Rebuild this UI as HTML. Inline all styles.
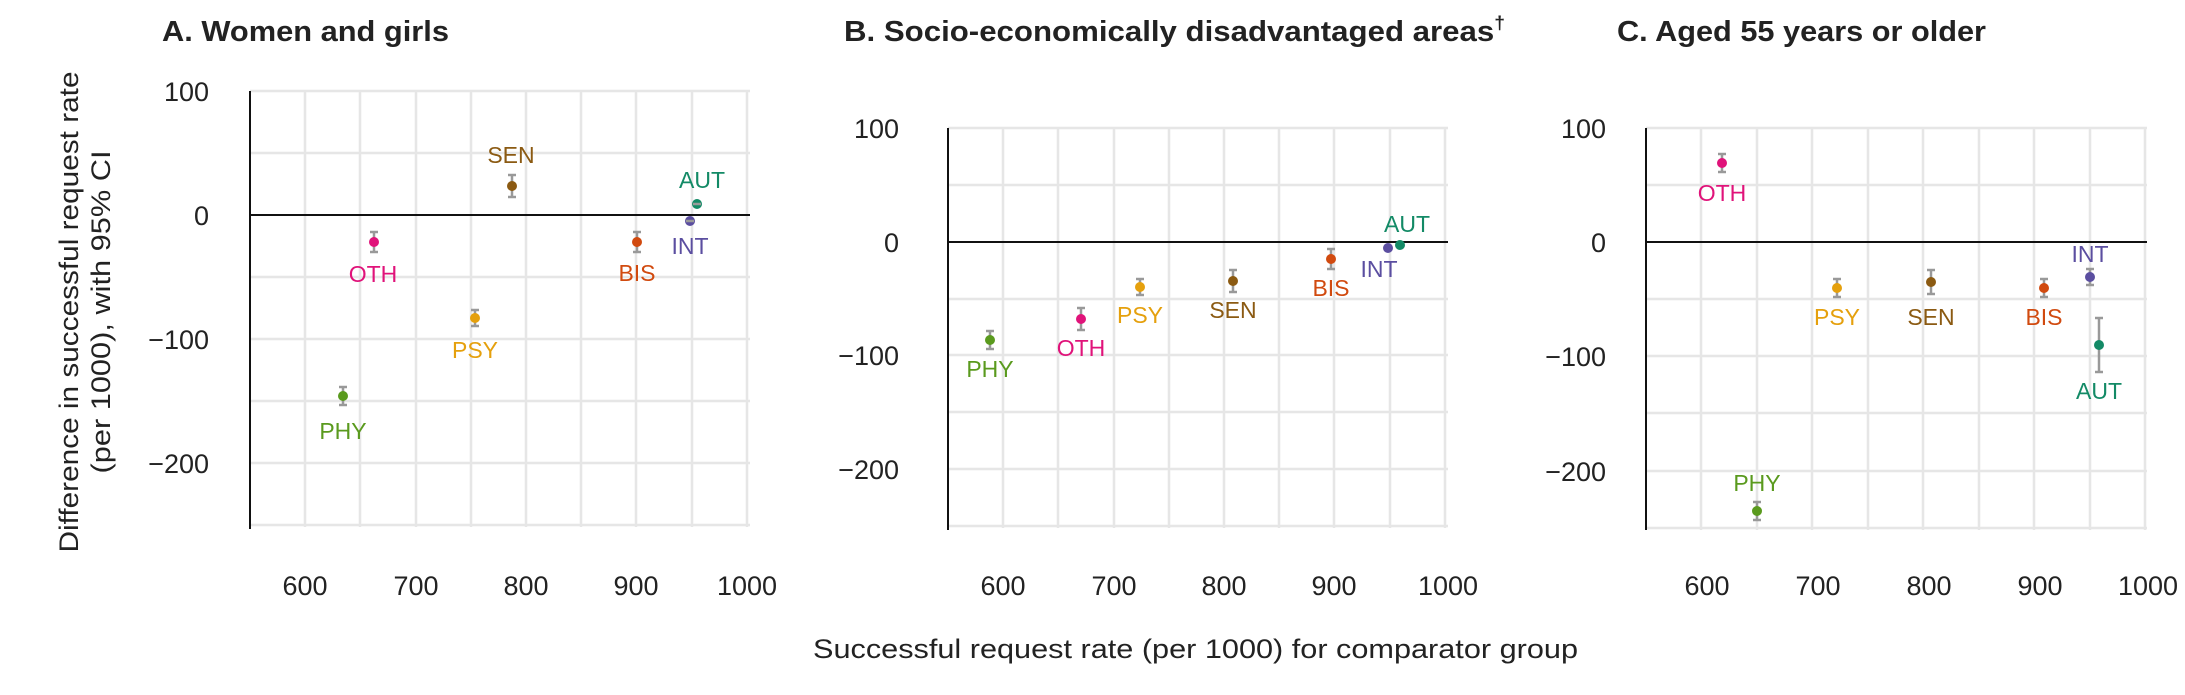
<!DOCTYPE html>
<html><head><meta charset="utf-8"><style>
html,body{margin:0;padding:0;background:#fff;}
svg{display:block;font-family:"Liberation Sans",sans-serif;}
.g{stroke:#e6e6e6;stroke-width:2.5;}
.ax{stroke:#111;stroke-width:2;}
.tk{font-size:27px;fill:#222;}
.lb{font-size:23px;text-anchor:middle;}
.eb{stroke:#999;stroke-width:2.5;}
.t{font-size:29px;font-weight:bold;fill:#222;}
</style></head><body>
<svg width="2185" height="695" viewBox="0 0 2185 695" xmlns="http://www.w3.org/2000/svg">
<!-- titles -->
<text class="t" x="162" y="41" textLength="287" lengthAdjust="spacingAndGlyphs">A. Women and girls</text>
<text class="t" x="844" y="41" textLength="661" lengthAdjust="spacingAndGlyphs">B. Socio-economically disadvantaged areas<tspan font-size="18" dy="-12">†</tspan></text>
<text class="t" x="1617" y="41" textLength="369" lengthAdjust="spacingAndGlyphs">C. Aged 55 years or older</text>

<!-- y axis title -->
<text transform="translate(78,312) rotate(-90)" text-anchor="middle" font-size="27" fill="#222" textLength="481" lengthAdjust="spacingAndGlyphs">Difference in successful request rate</text>
<text transform="translate(110,312) rotate(-90)" text-anchor="middle" font-size="27" fill="#222" textLength="323" lengthAdjust="spacingAndGlyphs">(per 1000), with 95% CI</text>
<!-- x axis title -->
<text x="813" y="658" font-size="27" fill="#222" textLength="765" lengthAdjust="spacingAndGlyphs">Successful request rate (per 1000) for comparator group</text>

<!-- PANEL A grid -->
<g class="g">
<line x1="250" y1="91" x2="750" y2="91"/><line x1="250" y1="153" x2="750" y2="153"/><line x1="250" y1="277" x2="750" y2="277"/><line x1="250" y1="339" x2="750" y2="339"/><line x1="250" y1="401" x2="750" y2="401"/><line x1="250" y1="463" x2="750" y2="463"/><line x1="250" y1="525" x2="750" y2="525"/>
<line x1="305" y1="91" x2="305" y2="527"/><line x1="360" y1="91" x2="360" y2="527"/><line x1="416" y1="91" x2="416" y2="527"/><line x1="471" y1="91" x2="471" y2="527"/><line x1="526" y1="91" x2="526" y2="527"/><line x1="581" y1="91" x2="581" y2="527"/><line x1="636" y1="91" x2="636" y2="527"/><line x1="692" y1="91" x2="692" y2="527"/><line x1="747" y1="91" x2="747" y2="527"/>
</g>
<line class="ax" x1="250" y1="91" x2="250" y2="529"/>
<line class="ax" x1="250" y1="215" x2="750" y2="215"/>
<g class="tk" text-anchor="end">
<text x="209" y="101">100</text><text x="209" y="225">0</text><text x="209" y="349">−100</text><text x="209" y="473">−200</text>
</g>
<g class="tk" text-anchor="middle">
<text x="305" y="595">600</text><text x="416" y="595">700</text><text x="526" y="595">800</text><text x="636" y="595">900</text><text x="747" y="595">1000</text>
</g>
<!-- A points -->
<g>
<line class="eb" x1="343" y1="387" x2="343" y2="405"/><line class="eb" x1="339" y1="387" x2="347" y2="387"/><line class="eb" x1="339" y1="405" x2="347" y2="405"/><circle cx="343" cy="396" r="5" fill="#5a9a1e"/>
<text class="lb" x="343" y="439" fill="#5a9a1e">PHY</text>
<line class="eb" x1="374" y1="232" x2="374" y2="252"/><line class="eb" x1="370" y1="232" x2="378" y2="232"/><line class="eb" x1="370" y1="252" x2="378" y2="252"/><circle cx="374" cy="242" r="5" fill="#e0137a"/>
<text class="lb" x="373" y="282" fill="#e0137a">OTH</text>
<line class="eb" x1="475" y1="310" x2="475" y2="326"/><line class="eb" x1="471" y1="310" x2="479" y2="310"/><line class="eb" x1="471" y1="326" x2="479" y2="326"/><circle cx="475" cy="318" r="5" fill="#e5a00d"/>
<text class="lb" x="475" y="358" fill="#e5a00d">PSY</text>
<line class="eb" x1="512" y1="175" x2="512" y2="197"/><line class="eb" x1="508" y1="175" x2="516" y2="175"/><line class="eb" x1="508" y1="197" x2="516" y2="197"/><circle cx="512" cy="186" r="5" fill="#8b5a12"/>
<text class="lb" x="511" y="163" fill="#8b5a12">SEN</text>
<line class="eb" x1="637" y1="232" x2="637" y2="252"/><line class="eb" x1="633" y1="232" x2="641" y2="232"/><line class="eb" x1="633" y1="252" x2="641" y2="252"/><circle cx="637" cy="242" r="5" fill="#d14a0f"/>
<text class="lb" x="637" y="281" fill="#d14a0f">BIS</text>
<circle cx="690" cy="221" r="5" fill="#5b4ea0"/><line class="eb" x1="686" y1="221" x2="694" y2="221" stroke-width="1.5"/>
<text class="lb" x="690" y="254" fill="#5b4ea0">INT</text>
<circle cx="697" cy="204" r="5" fill="#138a66"/><line class="eb" x1="693" y1="204" x2="701" y2="204" stroke-width="1.5"/>
<text class="lb" x="702" y="188" fill="#138a66">AUT</text>
</g>

<!-- PANEL B grid -->
<g class="g">
<line x1="948" y1="128" x2="1448" y2="128"/><line x1="948" y1="185" x2="1448" y2="185"/><line x1="948" y1="299" x2="1448" y2="299"/><line x1="948" y1="355" x2="1448" y2="355"/><line x1="948" y1="412" x2="1448" y2="412"/><line x1="948" y1="469" x2="1448" y2="469"/><line x1="948" y1="526" x2="1448" y2="526"/>
<line x1="1003" y1="128" x2="1003" y2="528"/><line x1="1058" y1="128" x2="1058" y2="528"/><line x1="1114" y1="128" x2="1114" y2="528"/><line x1="1169" y1="128" x2="1169" y2="528"/><line x1="1224" y1="128" x2="1224" y2="528"/><line x1="1279" y1="128" x2="1279" y2="528"/><line x1="1334" y1="128" x2="1334" y2="528"/><line x1="1390" y1="128" x2="1390" y2="528"/><line x1="1445" y1="128" x2="1445" y2="528"/>
</g>
<line class="ax" x1="948" y1="128" x2="948" y2="530"/>
<line class="ax" x1="948" y1="242" x2="1448" y2="242"/>
<g class="tk" text-anchor="end">
<text x="899" y="138">100</text><text x="899" y="252">0</text><text x="899" y="365">−100</text><text x="899" y="479">−200</text>
</g>
<g class="tk" text-anchor="middle">
<text x="1003" y="595">600</text><text x="1114" y="595">700</text><text x="1224" y="595">800</text><text x="1334" y="595">900</text><text x="1448" y="595">1000</text>
</g>
<g>
<line class="eb" x1="990" y1="331" x2="990" y2="349"/><line class="eb" x1="986" y1="331" x2="994" y2="331"/><line class="eb" x1="986" y1="349" x2="994" y2="349"/><circle cx="990" cy="340" r="5" fill="#5a9a1e"/>
<text class="lb" x="990" y="377" fill="#5a9a1e">PHY</text>
<line class="eb" x1="1081" y1="308" x2="1081" y2="330"/><line class="eb" x1="1077" y1="308" x2="1085" y2="308"/><line class="eb" x1="1077" y1="330" x2="1085" y2="330"/><circle cx="1081" cy="319" r="5" fill="#e0137a"/>
<text class="lb" x="1081" y="356" fill="#e0137a">OTH</text>
<line class="eb" x1="1140" y1="279" x2="1140" y2="295"/><line class="eb" x1="1136" y1="279" x2="1144" y2="279"/><line class="eb" x1="1136" y1="295" x2="1144" y2="295"/><circle cx="1140" cy="287" r="5" fill="#e5a00d"/>
<text class="lb" x="1140" y="323" fill="#e5a00d">PSY</text>
<line class="eb" x1="1233" y1="270" x2="1233" y2="292"/><line class="eb" x1="1229" y1="270" x2="1237" y2="270"/><line class="eb" x1="1229" y1="292" x2="1237" y2="292"/><circle cx="1233" cy="281" r="5" fill="#8b5a12"/>
<text class="lb" x="1233" y="318" fill="#8b5a12">SEN</text>
<line class="eb" x1="1331" y1="249" x2="1331" y2="269"/><line class="eb" x1="1327" y1="249" x2="1335" y2="249"/><line class="eb" x1="1327" y1="269" x2="1335" y2="269"/><circle cx="1331" cy="259" r="5" fill="#d14a0f"/>
<text class="lb" x="1331" y="296" fill="#d14a0f">BIS</text>
<line class="eb" x1="1384" y1="248" x2="1392" y2="248"/><circle cx="1388" cy="248" r="5" fill="#5b4ea0"/>
<text class="lb" x="1379" y="277" fill="#5b4ea0">INT</text>
<line class="eb" x1="1396" y1="245" x2="1404" y2="245"/><circle cx="1400" cy="245" r="5" fill="#138a66"/>
<text class="lb" x="1407" y="232" fill="#138a66">AUT</text>
</g>

<!-- PANEL C grid -->
<g class="g">
<line x1="1646" y1="128" x2="2147" y2="128"/><line x1="1646" y1="185" x2="2147" y2="185"/><line x1="1646" y1="299" x2="2147" y2="299"/><line x1="1646" y1="356" x2="2147" y2="356"/><line x1="1646" y1="413" x2="2147" y2="413"/><line x1="1646" y1="471" x2="2147" y2="471"/><line x1="1646" y1="528" x2="2147" y2="528"/>
<line x1="1701" y1="128" x2="1701" y2="530"/><line x1="1757" y1="128" x2="1757" y2="530"/><line x1="1812" y1="128" x2="1812" y2="530"/><line x1="1868" y1="128" x2="1868" y2="530"/><line x1="1923" y1="128" x2="1923" y2="530"/><line x1="1979" y1="128" x2="1979" y2="530"/><line x1="2034" y1="128" x2="2034" y2="530"/><line x1="2090" y1="128" x2="2090" y2="530"/><line x1="2145" y1="128" x2="2145" y2="530"/>
</g>
<line class="ax" x1="1646" y1="128" x2="1646" y2="530"/>
<line class="ax" x1="1646" y1="242" x2="2147" y2="242"/>
<g class="tk" text-anchor="end">
<text x="1606" y="138">100</text><text x="1606" y="252">0</text><text x="1606" y="366">−100</text><text x="1606" y="481">−200</text>
</g>
<g class="tk" text-anchor="middle">
<text x="1707" y="595">600</text><text x="1818" y="595">700</text><text x="1929" y="595">800</text><text x="2040" y="595">900</text><text x="2148" y="595">1000</text>
</g>
<g>
<line class="eb" x1="1722" y1="154" x2="1722" y2="172"/><line class="eb" x1="1718" y1="154" x2="1726" y2="154"/><line class="eb" x1="1718" y1="172" x2="1726" y2="172"/><circle cx="1722" cy="163" r="5" fill="#e0137a"/>
<text class="lb" x="1722" y="201" fill="#e0137a">OTH</text>
<line class="eb" x1="1757" y1="502" x2="1757" y2="520"/><line class="eb" x1="1753" y1="502" x2="1761" y2="502"/><line class="eb" x1="1753" y1="520" x2="1761" y2="520"/><circle cx="1757" cy="511" r="5" fill="#5a9a1e"/>
<text class="lb" x="1757" y="491" fill="#5a9a1e">PHY</text>
<line class="eb" x1="1837" y1="279" x2="1837" y2="297"/><line class="eb" x1="1833" y1="279" x2="1841" y2="279"/><line class="eb" x1="1833" y1="297" x2="1841" y2="297"/><circle cx="1837" cy="288" r="5" fill="#e5a00d"/>
<text class="lb" x="1837" y="325" fill="#e5a00d">PSY</text>
<line class="eb" x1="1931" y1="270" x2="1931" y2="294"/><line class="eb" x1="1927" y1="270" x2="1935" y2="270"/><line class="eb" x1="1927" y1="294" x2="1935" y2="294"/><circle cx="1931" cy="282" r="5" fill="#8b5a12"/>
<text class="lb" x="1931" y="325" fill="#8b5a12">SEN</text>
<line class="eb" x1="2044" y1="279" x2="2044" y2="297"/><line class="eb" x1="2040" y1="279" x2="2048" y2="279"/><line class="eb" x1="2040" y1="297" x2="2048" y2="297"/><circle cx="2044" cy="288" r="5" fill="#d14a0f"/>
<text class="lb" x="2044" y="325" fill="#d14a0f">BIS</text>
<line class="eb" x1="2090" y1="269" x2="2090" y2="285"/><line class="eb" x1="2086" y1="269" x2="2094" y2="269"/><line class="eb" x1="2086" y1="285" x2="2094" y2="285"/><circle cx="2090" cy="277" r="5" fill="#5b4ea0"/>
<text class="lb" x="2090" y="262" fill="#5b4ea0">INT</text>
<line class="eb" x1="2099" y1="318" x2="2099" y2="372"/><line class="eb" x1="2095" y1="318" x2="2103" y2="318"/><line class="eb" x1="2095" y1="372" x2="2103" y2="372"/><circle cx="2099" cy="345" r="5" fill="#138a66"/>
<text class="lb" x="2099" y="399" fill="#138a66">AUT</text>
</g>
</svg>
</body></html>
